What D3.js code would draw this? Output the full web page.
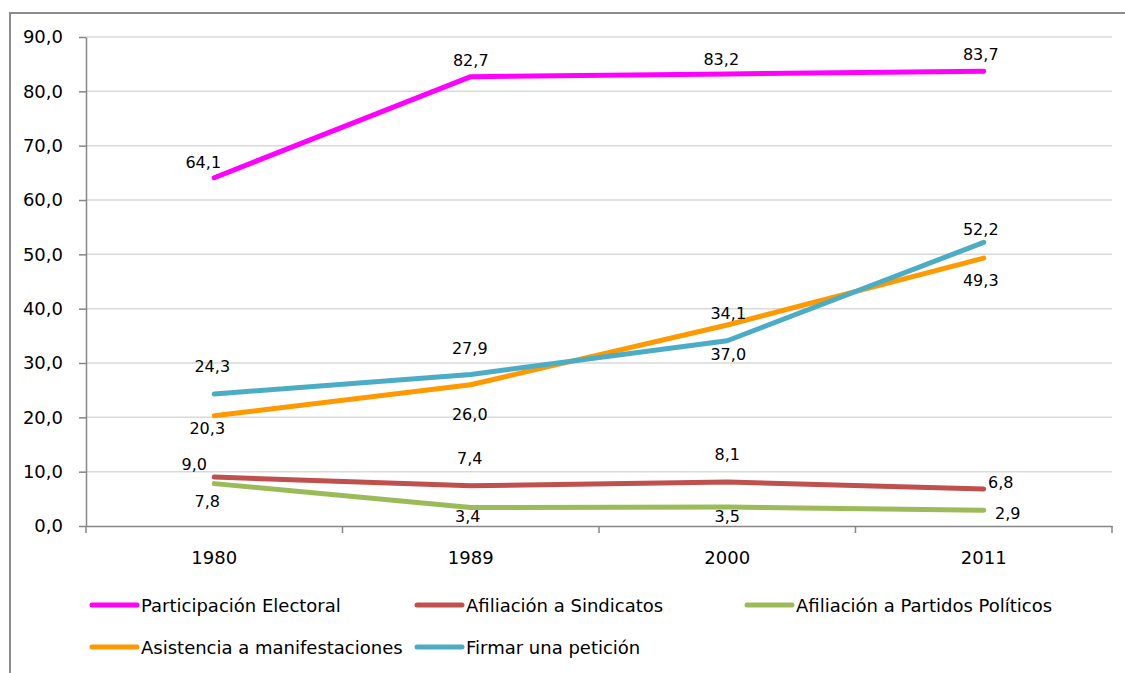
<!DOCTYPE html>
<html>
<head>
<meta charset="utf-8">
<script src="https://cdn.jsdelivr.net/npm/d3@7"></script>
<style>
  html, body { margin: 0; padding: 0; background: #ffffff; }
  svg { display: block; font-family: "DejaVu Sans", sans-serif; }
</style>
</head>
<body>
<svg id="chart" width="1125" height="673"></svg>
<script>
// Years on the category axis
const years = ["1980", "1989", "2000", "2011"];

// Series values (%)
const participacionElectoral = [64.1, 82.7, 83.2, 83.7];
const afiliacionSindicatos   = [9.0, 7.4, 8.1, 6.8];
const afiliacionPartidos     = [7.8, 3.4, 3.5, 2.9];
const asistenciaManif        = [20.3, 26.0, 37.0, 49.3];
const firmarPeticion         = [24.3, 27.9, 34.1, 52.2];

const seriesNames = [
  "Participación Electoral",
  "Afiliación a Sindicatos",
  "Afiliación a Partidos Políticos",
  "Asistencia a manifestaciones",
  "Firmar una petición"
];

// Y-axis tick values
const yTicks = [0, 10, 20, 30, 40, 50, 60, 70, 80, 90];

// Styling for each series, in the same order as seriesNames
const seriesColors = ["#ff00ff", "#c0504d", "#9bbb59", "#ff9900", "#4bacc6"];

// Label offsets from each point (pixels), per series
const labelOffsets = [
  [[-11, -15], [0, -16], [-6, -14], [-3, -17]],
  [[-20, -13], [-1, -27], [0, -27], [17, -7]],
  [[-7, 18], [-3, 9], [0, 10], [24, 3]],
  [[-7, 13], [-1, 30], [1, 30], [-3, 22]],
  [[-2, -27], [-1, -26], [1, -27], [-3, -13]]
];

const seriesValues = [
  participacionElectoral,
  afiliacionSindicatos,
  afiliacionPartidos,
  asistenciaManif,
  firmarPeticion
];

const series = seriesNames.map((name, i) => ({
  name,
  color: seriesColors[i],
  values: seriesValues[i].map((v, j) => ({ year: years[j], value: v, off: labelOffsets[i][j] }))
}));

const svg = d3.select("#chart");

const locale = d3.formatLocale({ decimal: ",", thousands: ".", grouping: [3], currency: ["", "€"] });
const fmt = locale.format(".1f");

const plot = { left: 86, right: 1112, top: 37, bottom: 526 };

const x = d3.scaleBand().domain(years).range([plot.left, plot.right]).paddingInner(0).paddingOuter(0);
const y = d3.scaleLinear().domain([0, 90]).range([plot.bottom, plot.top]);

// Outer chart frame
svg.append("rect")
  .attr("x", 10).attr("y", 13)
  .attr("width", 1200).attr("height", 700)
  .attr("fill", "none")
  .attr("stroke", "#8c8c8c")
  .attr("stroke-width", 2);

// Horizontal gridlines
svg.append("g")
  .selectAll("line")
  .data(yTicks.filter(d => d > 0))
  .join("line")
  .attr("x1", plot.left).attr("x2", plot.right)
  .attr("y1", d => y(d)).attr("y2", d => y(d))
  .attr("stroke", "#d9d9d9")
  .attr("stroke-width", 1.5);

// Y axis
const yAxis = svg.append("g")
  .attr("transform", `translate(${plot.left},0)`)
  .call(d3.axisLeft(y).tickValues(yTicks).tickFormat(fmt).tickSize(7).tickPadding(16).tickSizeOuter(0));
yAxis.select(".domain").attr("stroke", "#868686").attr("stroke-width", 1.5);
yAxis.selectAll(".tick line").attr("stroke", "#868686").attr("stroke-width", 1.5);
yAxis.selectAll(".tick text").attr("font-size", 18).attr("fill", "#000").attr("font-family", "DejaVu Sans");

// X axis (labels at band centres)
const xAxis = svg.append("g")
  .attr("transform", `translate(0,${plot.bottom})`)
  .call(d3.axisBottom(x).tickSize(0).tickPadding(25).tickSizeOuter(0));
xAxis.select(".domain").attr("stroke", "#868686").attr("stroke-width", 1.5);
xAxis.selectAll(".tick text").attr("font-size", 18).attr("fill", "#000").attr("font-family", "DejaVu Sans");

// Category boundary ticks
const boundaries = years.map(d => x(d)).concat([x(years[years.length - 1]) + x.bandwidth()]);
svg.append("g")
  .selectAll("line")
  .data(boundaries)
  .join("line")
  .attr("x1", d => d).attr("x2", d => d)
  .attr("y1", plot.bottom).attr("y2", plot.bottom + 7)
  .attr("stroke", "#868686")
  .attr("stroke-width", 1.5);

// Series lines
const line = d3.line()
  .x(d => x(d.year) + x.bandwidth() / 2)
  .y(d => y(d.value));

svg.append("g")
  .selectAll("path")
  .data(series)
  .join("path")
  .attr("d", d => line(d.values))
  .attr("fill", "none")
  .attr("stroke", d => d.color)
  .attr("stroke-width", 5)
  .attr("stroke-linecap", "round")
  .attr("stroke-linejoin", "round");

// Data labels
svg.append("g")
  .selectAll("g")
  .data(series)
  .join("g")
  .selectAll("text")
  .data(d => d.values)
  .join("text")
  .attr("x", d => x(d.year) + x.bandwidth() / 2 + d.off[0])
  .attr("y", d => y(d.value) + d.off[1])
  .attr("text-anchor", "middle")
  .attr("dominant-baseline", "central")
  .attr("font-size", 16)
  .attr("fill", "#000")
  .text(d => fmt(d.value));

// Legend
const legendPos = [
  { x: 90, y: 605 }, { x: 415, y: 605 }, { x: 745, y: 605 },
  { x: 90, y: 647 }, { x: 415, y: 647 }
];
const legend = svg.append("g")
  .selectAll("g")
  .data(series)
  .join("g")
  .attr("transform", (d, i) => `translate(${legendPos[i].x},${legendPos[i].y})`);
legend.append("line")
  .attr("x1", 2).attr("x2", 47)
  .attr("y1", 0).attr("y2", 0)
  .attr("stroke", d => d.color)
  .attr("stroke-width", 5)
  .attr("stroke-linecap", "round");
legend.append("text")
  .attr("x", 51)
  .attr("y", 0)
  .attr("dominant-baseline", "central")
  .attr("font-size", 18)
  .attr("fill", "#000")
  .text(d => d.name);
</script>
</body>
</html>
